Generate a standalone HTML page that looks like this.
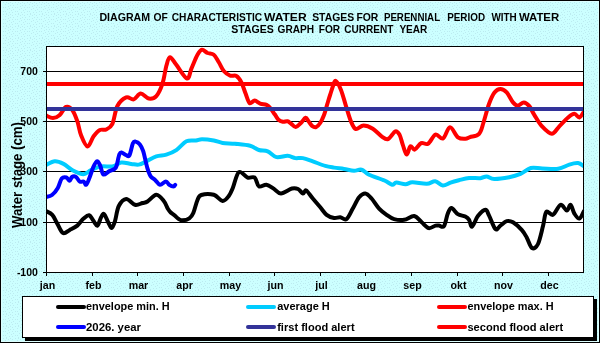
<!DOCTYPE html>
<html><head><meta charset="utf-8"><style>
html,body{margin:0;padding:0;background:#CCFFFF;}
svg{display:block;will-change:transform;}
</style></head><body>
<svg width="600" height="343" viewBox="0 0 600 343">
<defs><pattern id="dots" x="4" y="50" width="12" height="12" patternUnits="userSpaceOnUse"><rect width="12" height="12" fill="#CCFFFF"/><rect x="2" y="0" width="1" height="1" fill="#BCEBF0"/><rect x="6" y="0" width="1" height="1" fill="#BCEBF0"/><rect x="11" y="0" width="1" height="1" fill="#BCEBF0"/><rect x="4" y="1" width="1" height="1" fill="#BCEBF0"/><rect x="8" y="1" width="1" height="1" fill="#BCEBF0"/><rect x="1" y="2" width="1" height="1" fill="#BCEBF0"/><rect x="6" y="3" width="1" height="1" fill="#BCEBF0"/><rect x="9" y="3" width="1" height="1" fill="#BCEBF0"/><rect x="4" y="4" width="1" height="1" fill="#BCEBF0"/><rect x="1" y="5" width="1" height="1" fill="#BCEBF0"/><rect x="8" y="5" width="1" height="1" fill="#BCEBF0"/><rect x="11" y="5" width="1" height="1" fill="#BCEBF0"/><rect x="5" y="6" width="1" height="1" fill="#BCEBF0"/><rect x="3" y="7" width="1" height="1" fill="#BCEBF0"/><rect x="9" y="7" width="1" height="1" fill="#BCEBF0"/><rect x="7" y="8" width="1" height="1" fill="#BCEBF0"/><rect x="1" y="9" width="1" height="1" fill="#BCEBF0"/><rect x="11" y="9" width="1" height="1" fill="#BCEBF0"/><rect x="5" y="10" width="1" height="1" fill="#BCEBF0"/><rect x="8" y="10" width="1" height="1" fill="#BCEBF0"/><rect x="2" y="11" width="1" height="1" fill="#BCEBF0"/></pattern><clipPath id="pc"><rect x="46.5" y="46.5" width="537" height="226"/></clipPath></defs>
<rect x="0" y="0" width="600" height="343" fill="url(#dots)"/>
<rect x="0.5" y="0.5" width="599" height="342" fill="none" stroke="#000" stroke-width="1"/>
<rect x="1.5" y="1.5" width="597" height="340" fill="none" stroke="#DDFFFF" stroke-width="1"/>
<rect x="46.5" y="46.5" width="537" height="226" fill="#fff"/>
<line x1="46" y1="71.5" x2="583" y2="71.5" stroke="#000" stroke-width="1"/>
<line x1="46" y1="121.5" x2="583" y2="121.5" stroke="#000" stroke-width="1"/>
<line x1="46" y1="171.5" x2="583" y2="171.5" stroke="#000" stroke-width="1"/>
<line x1="46" y1="222.5" x2="583" y2="222.5" stroke="#000" stroke-width="1"/>
<g clip-path="url(#pc)" fill="none" stroke-linejoin="round" stroke-linecap="round" stroke-width="4">
<path d="M46.0 211.0 C47.0 211.6 50.4 212.7 52.3 214.8 C54.2 216.9 55.5 220.6 57.3 223.6 C59.1 226.6 60.9 232.0 63.0 233.1 C65.1 234.2 67.4 231.2 69.8 229.9 C72.2 228.7 75.0 227.5 77.3 225.6 C79.6 223.7 81.6 220.3 83.6 218.6 C85.6 216.9 87.4 214.9 89.1 215.3 C90.8 215.7 92.2 219.4 93.6 221.1 C95.0 222.8 96.2 226.2 97.4 225.6 C98.7 225.0 100.0 219.2 101.1 217.3 C102.2 215.4 102.9 213.3 104.1 214.1 C105.3 214.9 106.9 220.0 108.2 222.3 C109.5 224.6 110.6 228.3 111.7 228.1 C112.8 227.9 113.8 224.8 115.0 221.1 C116.2 217.4 116.9 209.7 118.8 206.0 C120.7 202.3 123.5 199.2 126.2 199.0 C128.9 198.8 132.3 204.1 135.0 204.8 C137.7 205.5 140.4 203.6 142.5 203.0 C144.6 202.4 145.2 202.9 147.5 201.5 C149.8 200.1 153.6 194.9 156.3 194.8 C159.0 194.7 161.9 198.6 163.8 201.0 C165.8 203.4 166.8 207.1 168.0 209.0 C169.2 210.9 169.6 211.4 170.7 212.5 C171.8 213.6 173.4 214.4 174.7 215.5 C176.0 216.6 177.4 218.2 178.7 219.0 C180.0 219.8 180.9 220.4 182.7 220.3 C184.5 220.2 187.5 219.5 189.3 218.3 C191.1 217.1 192.0 216.0 193.3 213.0 C194.6 210.0 196.0 203.5 197.3 200.5 C198.6 197.5 198.6 195.9 201.3 195.0 C204.1 194.1 210.2 193.8 213.8 194.8 C217.4 195.8 220.1 200.8 222.6 201.0 C225.1 201.2 227.1 198.2 228.8 196.0 C230.5 193.8 231.1 192.0 232.8 188.0 C234.5 184.0 236.4 173.8 238.9 172.1 C241.4 170.4 245.0 176.7 247.6 177.6 C250.2 178.5 252.8 176.1 254.7 177.6 C256.6 179.1 256.9 185.2 258.9 186.4 C260.8 187.6 263.9 184.3 266.4 184.7 C268.9 185.1 271.6 187.4 274.0 188.9 C276.4 190.4 278.0 193.6 281.0 193.5 C284.0 193.4 289.2 189.2 292.0 188.5 C294.8 187.8 296.2 188.2 298.0 189.0 C299.8 189.8 301.6 193.2 303.0 193.5 C304.4 193.8 304.6 189.7 306.2 190.5 C307.8 191.3 310.4 195.7 312.8 198.5 C315.2 201.3 318.0 204.6 320.3 207.3 C322.6 210.0 324.3 213.0 326.6 214.8 C328.9 216.6 331.8 217.6 334.1 218.0 C336.4 218.4 338.2 217.1 340.3 217.3 C342.4 217.5 344.4 220.6 346.5 219.1 C348.6 217.6 350.7 212.2 352.8 208.6 C354.9 205.0 357.0 199.8 359.1 197.3 C361.2 194.8 363.2 193.3 365.3 193.5 C367.4 193.7 369.3 196.0 371.6 198.5 C373.9 201.0 376.6 205.9 379.1 208.6 C381.6 211.3 384.1 213.1 386.6 214.8 C389.1 216.6 391.2 218.3 394.1 219.1 C397.0 219.9 400.9 220.3 404.2 219.8 C407.5 219.3 411.3 215.7 414.2 216.1 C417.1 216.5 419.3 220.3 421.7 222.3 C424.1 224.3 426.4 227.6 428.7 228.1 C431.0 228.6 433.8 226.0 435.5 225.6 C437.2 225.2 437.6 225.5 439.0 225.6 C440.4 225.7 442.5 228.1 444.0 226.1 C445.5 224.1 446.6 216.6 447.8 213.6 C449.1 210.6 449.8 208.0 451.5 208.1 C453.2 208.2 455.5 212.7 457.8 214.1 C460.1 215.5 463.4 215.6 465.3 216.6 C467.2 217.6 468.0 218.1 469.1 219.8 C470.2 221.5 470.6 227.2 472.1 226.6 C473.6 226.0 475.7 218.9 477.9 216.1 C480.1 213.3 483.5 209.9 485.4 209.8 C487.3 209.7 487.4 212.4 489.1 215.6 C490.8 218.8 493.5 227.4 495.4 229.1 C497.3 230.8 498.5 226.9 500.4 225.6 C502.3 224.3 504.6 221.6 506.7 221.1 C508.8 220.6 510.5 220.8 513.0 222.3 C515.5 223.8 519.4 227.4 521.7 229.9 C524.0 232.4 525.0 234.4 526.7 237.4 C528.4 240.4 530.1 246.9 532.0 248.0 C533.9 249.1 536.2 247.7 538.0 244.0 C539.8 240.3 541.6 231.5 543.0 226.1 C544.4 220.7 544.6 213.7 546.3 211.8 C548.0 209.9 550.6 216.0 553.0 214.8 C555.4 213.6 558.3 205.5 560.6 204.8 C562.9 204.1 565.1 210.6 566.8 210.6 C568.5 210.6 569.3 204.3 570.6 204.8 C571.9 205.3 572.9 211.3 574.4 213.6 C575.9 215.9 577.8 219.0 579.4 218.6 C581.0 218.2 583.2 212.3 584.0 211.0" stroke="#000"/>
<path d="M46.0 165.0 C47.5 164.4 51.9 161.5 54.8 161.3 C57.7 161.1 60.5 162.4 63.5 163.9 C66.5 165.4 69.7 168.8 73.0 170.5 C76.3 172.2 80.5 174.3 83.5 174.2 C86.5 174.1 88.2 171.4 91.1 170.1 C94.0 168.8 97.5 167.0 101.1 166.4 C104.6 165.8 109.1 167.0 112.4 166.4 C115.8 165.8 118.1 163.0 121.2 162.6 C124.3 162.2 128.3 163.6 131.2 163.9 C134.1 164.2 136.2 165.0 138.7 164.6 C141.2 164.2 143.4 162.8 146.3 161.4 C149.2 160.0 153.0 157.4 156.3 156.3 C159.6 155.2 163.0 155.6 166.3 154.6 C169.6 153.6 173.0 152.3 176.3 150.1 C179.7 147.9 183.1 142.9 186.4 141.3 C189.7 139.7 193.4 140.8 196.0 140.5 C198.6 140.2 199.0 139.3 202.0 139.3 C205.0 139.3 210.4 139.9 213.8 140.5 C217.2 141.1 219.1 142.4 222.6 143.0 C226.1 143.6 230.5 143.3 235.1 143.8 C239.7 144.3 246.1 144.8 250.1 145.8 C254.1 146.8 256.0 149.1 258.9 150.0 C261.8 150.9 264.8 150.1 267.7 151.3 C270.6 152.5 273.2 156.3 276.5 157.1 C279.8 157.8 284.6 155.6 287.7 155.8 C290.8 156.0 292.8 157.7 295.3 158.1 C297.8 158.5 299.9 157.5 302.8 158.1 C305.7 158.7 309.1 160.1 312.8 161.4 C316.6 162.7 321.8 164.9 325.3 165.9 C328.9 166.9 331.0 167.1 334.1 167.6 C337.2 168.1 340.7 168.4 344.0 168.9 C347.3 169.4 351.1 170.6 354.0 170.7 C356.9 170.8 359.1 169.0 361.6 169.7 C364.1 170.4 365.3 172.9 369.1 174.7 C372.9 176.5 380.7 178.8 384.5 180.5 C388.3 182.2 390.1 184.3 392.1 184.7 C394.1 185.0 394.1 182.7 396.3 182.6 C398.6 182.5 402.9 184.4 405.6 184.3 C408.3 184.2 408.9 182.4 412.4 182.3 C415.9 182.2 423.0 184.0 426.8 183.8 C430.6 183.6 432.5 181.0 435.2 181.3 C437.9 181.6 440.2 185.3 442.8 185.5 C445.4 185.7 447.8 183.6 450.5 182.7 C453.2 181.8 455.8 181.1 458.9 180.3 C462.0 179.5 465.5 178.3 469.1 178.0 C472.7 177.7 477.5 178.5 480.4 178.2 C483.3 177.9 484.3 176.3 486.6 176.4 C488.9 176.5 490.4 178.8 494.2 178.9 C498.0 179.0 504.8 178.0 509.2 177.2 C513.6 176.4 516.9 175.4 520.5 173.9 C524.1 172.4 527.2 168.9 530.8 168.0 C534.4 167.1 537.7 168.4 542.3 168.5 C546.9 168.6 553.7 169.5 558.2 168.8 C562.7 168.2 566.0 165.6 569.3 164.6 C572.6 163.6 575.6 162.8 578.1 163.1 C580.6 163.4 583.0 165.8 584.0 166.4" stroke="#00CCFF"/>
<path d="M46.0 115.5 C47.2 115.9 50.7 118.1 53.0 118.0 C55.3 117.9 57.6 116.8 59.8 114.9 C62.0 113.1 63.9 107.7 66.0 106.9 C68.1 106.1 70.4 107.6 72.3 110.0 C74.2 112.4 75.8 117.0 77.3 121.2 C78.8 125.4 79.3 130.8 81.0 135.0 C82.7 139.2 85.5 146.3 87.6 146.5 C89.7 146.7 91.5 139.1 93.6 136.3 C95.6 133.6 97.8 131.1 99.9 130.0 C102.0 128.9 104.1 130.5 106.2 129.5 C108.3 128.5 110.5 127.7 112.4 123.8 C114.3 119.9 115.1 110.4 117.4 106.0 C119.7 101.6 123.5 98.5 126.2 97.4 C128.9 96.3 131.3 100.0 133.7 99.4 C136.1 98.8 138.2 93.7 140.7 93.6 C143.2 93.5 146.2 98.2 148.8 98.6 C151.4 99.0 154.0 98.6 156.3 96.1 C158.6 93.6 160.8 88.6 162.5 83.6 C164.2 78.6 165.1 70.4 166.3 66.0 C167.6 61.6 168.3 57.5 170.0 57.3 C171.7 57.1 173.5 61.3 176.3 64.8 C179.1 68.3 184.5 77.9 187.0 78.5 C189.5 79.1 189.7 72.5 191.4 68.6 C193.2 64.6 195.7 57.9 197.5 54.8 C199.3 51.7 200.3 50.1 202.0 49.8 C203.7 49.5 205.5 52.2 207.5 53.0 C209.5 53.8 211.9 53.2 213.8 54.8 C215.7 56.3 217.1 59.6 218.8 62.3 C220.5 65.0 221.9 68.8 223.8 71.0 C225.7 73.2 228.0 74.8 230.1 75.6 C232.2 76.4 234.5 74.9 236.4 76.0 C238.3 77.1 239.9 79.4 241.4 82.3 C242.9 85.2 244.2 90.1 245.6 93.6 C247.0 97.1 248.1 101.9 249.6 103.1 C251.1 104.3 252.9 100.5 254.7 100.6 C256.5 100.7 258.2 102.9 260.2 103.6 C262.2 104.3 264.9 104.2 266.5 104.9 C268.1 105.6 268.6 106.2 270.0 107.8 C271.4 109.4 273.3 112.3 274.7 114.3 C276.1 116.2 276.8 118.2 278.2 119.5 C279.6 120.8 281.2 121.5 282.8 121.8 C284.4 122.1 286.1 121.0 287.5 121.3 C288.9 121.6 289.6 122.6 291.0 123.6 C292.4 124.6 294.1 127.2 295.7 127.1 C297.3 127.0 299.2 124.5 300.9 123.0 C302.5 121.5 304.3 118.1 305.6 117.8 C306.9 117.5 307.4 119.9 308.5 121.3 C309.6 122.7 310.7 124.9 312.0 125.9 C313.3 126.9 314.7 127.6 316.1 127.1 C317.5 126.6 318.8 125.1 320.2 123.0 C321.6 120.9 323.1 117.4 324.3 114.3 C325.5 111.2 326.2 107.5 327.2 104.3 C328.2 101.1 329.1 98.0 330.1 95.0 C331.1 92.0 332.1 88.3 333.0 86.0 C333.9 83.7 334.5 80.3 335.8 81.0 C337.1 81.7 339.3 85.7 341.0 89.9 C342.7 94.1 344.3 100.8 346.0 106.1 C347.7 111.4 349.4 117.7 351.0 121.5 C352.6 125.3 353.7 128.3 355.8 129.0 C357.9 129.7 360.7 125.6 363.5 125.6 C366.3 125.6 369.8 127.0 372.8 128.8 C375.8 130.6 379.1 134.6 381.6 136.3 C384.1 138.0 385.7 139.8 388.0 139.0 C390.3 138.2 393.4 132.0 395.4 131.3 C397.3 130.7 398.4 132.8 399.7 135.1 C400.9 137.4 401.7 141.8 402.9 145.1 C404.1 148.3 405.4 154.4 406.7 154.6 C407.9 154.8 409.1 147.1 410.4 146.3 C411.7 145.5 412.9 150.1 414.7 149.6 C416.5 149.1 419.0 144.1 421.2 143.1 C423.4 142.1 425.6 145.2 428.0 143.8 C430.4 142.4 433.0 135.5 435.5 134.6 C438.0 133.7 440.6 139.7 443.0 138.5 C445.4 137.3 447.5 127.5 450.0 127.3 C452.5 127.1 455.3 135.4 457.9 137.3 C460.5 139.2 463.5 138.8 465.5 138.8 C467.5 138.8 467.7 137.9 470.0 137.1 C472.3 136.3 476.9 136.2 479.1 133.8 C481.4 131.4 481.9 127.5 483.5 122.5 C485.1 117.5 487.2 109.0 489.0 104.0 C490.8 99.0 492.6 95.0 494.5 92.5 C496.4 90.0 498.4 89.0 500.4 89.0 C502.4 89.0 504.6 90.2 506.7 92.4 C508.8 94.6 511.1 100.2 513.0 102.4 C514.9 104.6 516.2 105.7 518.0 105.7 C519.8 105.7 521.9 102.3 523.8 102.4 C525.7 102.5 527.5 104.0 529.3 106.1 C531.0 108.2 532.2 111.6 534.3 114.9 C536.4 118.2 538.9 123.0 541.8 126.2 C544.7 129.3 548.9 133.8 551.8 133.8 C554.7 133.8 556.6 129.0 559.3 126.3 C562.0 123.6 565.6 119.6 568.1 117.5 C570.6 115.4 572.5 113.8 574.4 113.8 C576.3 113.8 577.8 117.9 579.4 117.5 C581.0 117.1 583.2 112.5 584.0 111.5" stroke="#FF0000"/>
<path d="M46.0 197.0 C47.0 196.7 50.0 196.5 52.0 195.0 C54.0 193.5 56.2 190.8 57.8 188.0 C59.4 185.2 60.3 180.2 61.7 178.5 C63.1 176.8 65.1 177.1 66.4 177.5 C67.7 177.9 68.7 180.9 69.6 180.8 C70.5 180.7 71.0 177.7 72.0 177.0 C73.0 176.3 74.6 176.1 75.9 176.9 C77.2 177.7 78.5 180.8 79.8 181.6 C81.1 182.4 82.7 181.1 83.7 181.6 C84.8 182.1 85.2 185.2 86.1 184.7 C87.0 184.2 88.0 181.4 89.2 178.5 C90.4 175.6 91.9 170.3 93.2 167.4 C94.5 164.5 95.9 161.4 97.1 161.2 C98.3 160.9 99.2 163.7 100.3 165.9 C101.3 168.1 102.0 173.6 103.4 174.5 C104.8 175.4 107.1 172.3 108.9 171.4 C110.7 170.5 113.1 169.9 114.4 169.0 C115.7 168.1 115.7 168.4 116.5 166.0 C117.3 163.6 118.5 156.5 119.4 154.3 C120.3 152.1 120.8 152.4 121.9 152.6 C123.0 152.8 124.9 154.8 126.2 155.2 C127.5 155.6 128.4 157.2 129.5 155.2 C130.6 153.2 131.9 145.6 132.9 143.3 C133.9 141.0 134.4 141.4 135.5 141.6 C136.6 141.8 138.4 142.6 139.7 144.2 C141.0 145.8 141.8 147.0 143.1 150.9 C144.4 154.8 146.0 163.6 147.3 167.8 C148.6 172.0 149.4 174.3 150.7 176.3 C152.0 178.3 153.3 178.3 154.9 179.7 C156.5 181.1 158.2 184.5 160.0 184.8 C161.8 185.1 164.3 181.4 165.9 181.4 C167.5 181.4 168.0 184.0 169.3 184.8 C170.6 185.7 172.5 186.5 173.5 186.5 C174.5 186.5 174.9 185.1 175.2 184.8" stroke="#0000FF"/>
<line x1="40" y1="109" x2="600" y2="109" stroke="#333399"/>
<line x1="40" y1="84" x2="600" y2="84" stroke="#FF0000"/>
</g>
<rect x="46.5" y="46.5" width="537" height="226" fill="none" stroke="#000" stroke-width="1"/>
<line x1="43" y1="71.5" x2="47" y2="71.5" stroke="#000"/>
<line x1="43" y1="121.5" x2="47" y2="121.5" stroke="#000"/>
<line x1="43" y1="171.5" x2="47" y2="171.5" stroke="#000"/>
<line x1="43" y1="222.5" x2="47" y2="222.5" stroke="#000"/>
<line x1="43" y1="272.5" x2="47" y2="272.5" stroke="#000"/>
<line x1="46.5" y1="272" x2="46.5" y2="276" stroke="#000"/>
<line x1="92.5" y1="272" x2="92.5" y2="276" stroke="#000"/>
<line x1="137.5" y1="272" x2="137.5" y2="276" stroke="#000"/>
<line x1="183.5" y1="272" x2="183.5" y2="276" stroke="#000"/>
<line x1="229.5" y1="272" x2="229.5" y2="276" stroke="#000"/>
<line x1="274.5" y1="272" x2="274.5" y2="276" stroke="#000"/>
<line x1="320.5" y1="272" x2="320.5" y2="276" stroke="#000"/>
<line x1="365.5" y1="272" x2="365.5" y2="276" stroke="#000"/>
<line x1="411.5" y1="272" x2="411.5" y2="276" stroke="#000"/>
<line x1="457.5" y1="272" x2="457.5" y2="276" stroke="#000"/>
<line x1="502.5" y1="272" x2="502.5" y2="276" stroke="#000"/>
<line x1="548.5" y1="272" x2="548.5" y2="276" stroke="#000"/>
<text font-family="Liberation Sans" font-weight="bold" font-size="10.6" x="99.4" y="21.0" textLength="50.7" lengthAdjust="spacingAndGlyphs">DIAGRAM</text>
<text font-family="Liberation Sans" font-weight="bold" font-size="10.6" x="153.4" y="21.0" textLength="14.3" lengthAdjust="spacingAndGlyphs">OF</text>
<text font-family="Liberation Sans" font-weight="bold" font-size="10.6" x="171.7" y="21.0" textLength="90.5" lengthAdjust="spacingAndGlyphs">CHARACTERISTIC</text>
<text font-family="Liberation Sans" font-weight="bold" font-size="10.6" x="263.9" y="21.0" textLength="42.8" lengthAdjust="spacingAndGlyphs">WATER</text>
<text font-family="Liberation Sans" font-weight="bold" font-size="10.6" x="312.2" y="21.0" textLength="42.0" lengthAdjust="spacingAndGlyphs">STAGES</text>
<text font-family="Liberation Sans" font-weight="bold" font-size="10.6" x="356.4" y="21.0" textLength="22.0" lengthAdjust="spacingAndGlyphs">FOR</text>
<text font-family="Liberation Sans" font-weight="bold" font-size="10.6" x="383.9" y="21.0" textLength="56.2" lengthAdjust="spacingAndGlyphs">PERENNIAL</text>
<text font-family="Liberation Sans" font-weight="bold" font-size="10.6" x="447.2" y="21.0" textLength="37.9" lengthAdjust="spacingAndGlyphs">PERIOD</text>
<text font-family="Liberation Sans" font-weight="bold" font-size="10.6" x="491.4" y="21.0" textLength="25.3" lengthAdjust="spacingAndGlyphs">WITH</text>
<text font-family="Liberation Sans" font-weight="bold" font-size="10.6" x="518.9" y="21.0" textLength="40.3" lengthAdjust="spacingAndGlyphs">WATER</text>
<text font-family="Liberation Sans" font-weight="bold" font-size="10.6" x="231.2" y="32.5" textLength="42.6" lengthAdjust="spacingAndGlyphs">STAGES</text>
<text font-family="Liberation Sans" font-weight="bold" font-size="10.6" x="277.6" y="32.5" textLength="36.6" lengthAdjust="spacingAndGlyphs">GRAPH</text>
<text font-family="Liberation Sans" font-weight="bold" font-size="10.6" x="318.7" y="32.5" textLength="21.4" lengthAdjust="spacingAndGlyphs">FOR</text>
<text font-family="Liberation Sans" font-weight="bold" font-size="10.6" x="344.3" y="32.5" textLength="49.2" lengthAdjust="spacingAndGlyphs">CURRENT</text>
<text font-family="Liberation Sans" font-weight="bold" font-size="10.6" x="399.4" y="32.5" textLength="28.0" lengthAdjust="spacingAndGlyphs">YEAR</text>
<text font-family="Liberation Sans" font-weight="bold" font-size="10.5" text-anchor="end" x="37.9" y="75.0">700</text>
<text font-family="Liberation Sans" font-weight="bold" font-size="10.5" text-anchor="end" x="37.9" y="125.0">500</text>
<text font-family="Liberation Sans" font-weight="bold" font-size="10.5" text-anchor="end" x="37.9" y="175.0">300</text>
<text font-family="Liberation Sans" font-weight="bold" font-size="10.5" text-anchor="end" x="37.9" y="226.0">100</text>
<text font-family="Liberation Sans" font-weight="bold" font-size="10.5" text-anchor="end" x="37.9" y="276.0">-100</text>
<text font-family="Liberation Sans" font-weight="bold" font-size="10.67" text-anchor="middle" x="47.5" y="289">jan</text>
<text font-family="Liberation Sans" font-weight="bold" font-size="10.67" text-anchor="middle" x="93.5" y="289">feb</text>
<text font-family="Liberation Sans" font-weight="bold" font-size="10.67" text-anchor="middle" x="138.5" y="289">mar</text>
<text font-family="Liberation Sans" font-weight="bold" font-size="10.67" text-anchor="middle" x="184.5" y="289">apr</text>
<text font-family="Liberation Sans" font-weight="bold" font-size="10.67" text-anchor="middle" x="230.5" y="289">may</text>
<text font-family="Liberation Sans" font-weight="bold" font-size="10.67" text-anchor="middle" x="275.5" y="289">jun</text>
<text font-family="Liberation Sans" font-weight="bold" font-size="10.67" text-anchor="middle" x="321.5" y="289">jul</text>
<text font-family="Liberation Sans" font-weight="bold" font-size="10.67" text-anchor="middle" x="366.5" y="289">aug</text>
<text font-family="Liberation Sans" font-weight="bold" font-size="10.67" text-anchor="middle" x="412.5" y="289">sep</text>
<text font-family="Liberation Sans" font-weight="bold" font-size="10.67" text-anchor="middle" x="458.5" y="289">okt</text>
<text font-family="Liberation Sans" font-weight="bold" font-size="10.67" text-anchor="middle" x="503.5" y="289">nov</text>
<text font-family="Liberation Sans" font-weight="bold" font-size="10.67" text-anchor="middle" x="549.5" y="289">dec</text>
<text font-family="Liberation Sans" font-weight="bold" font-size="14" transform="translate(22.2,228) rotate(-90)" x="0" y="0" textLength="106" lengthAdjust="spacingAndGlyphs">Water stage (cm)</text>
<rect x="25" y="299" width="572" height="42" fill="#000"/>
<rect x="22.5" y="296.5" width="571" height="41" fill="#fff" stroke="#000" stroke-width="1"/>
<line x1="58.0" y1="307.0" x2="84.0" y2="307.0" stroke="#000" stroke-width="4" stroke-linecap="round"/>
<text font-family="Liberation Sans" font-weight="bold" font-size="10.67" x="86.0" y="309.6" textLength="83.6" lengthAdjust="spacingAndGlyphs">envelope min. H</text>
<line x1="248.0" y1="307.0" x2="274.0" y2="307.0" stroke="#00CCFF" stroke-width="4" stroke-linecap="round"/>
<text font-family="Liberation Sans" font-weight="bold" font-size="10.67" x="277.2" y="309.6" textLength="52.6" lengthAdjust="spacingAndGlyphs">average H</text>
<line x1="439.0" y1="307.0" x2="465.0" y2="307.0" stroke="#FF0000" stroke-width="4" stroke-linecap="round"/>
<text font-family="Liberation Sans" font-weight="bold" font-size="10.67" x="467.4" y="309.6" textLength="86.2" lengthAdjust="spacingAndGlyphs">envelope max. H</text>
<line x1="58.0" y1="327.0" x2="84.0" y2="327.0" stroke="#0000FF" stroke-width="4" stroke-linecap="round"/>
<text font-family="Liberation Sans" font-weight="bold" font-size="10.67" x="86.0" y="330.5" textLength="55.0" lengthAdjust="spacingAndGlyphs">2026. year</text>
<line x1="248.0" y1="327.0" x2="274.0" y2="327.0" stroke="#333399" stroke-width="4" stroke-linecap="round"/>
<text font-family="Liberation Sans" font-weight="bold" font-size="10.67" x="277.2" y="330.5" textLength="77.4" lengthAdjust="spacingAndGlyphs">first flood alert</text>
<line x1="439.0" y1="327.0" x2="465.0" y2="327.0" stroke="#FF0000" stroke-width="4" stroke-linecap="round"/>
<text font-family="Liberation Sans" font-weight="bold" font-size="10.67" x="467.4" y="330.5" textLength="95.7" lengthAdjust="spacingAndGlyphs">second flood alert</text>
</svg>
</body></html>
